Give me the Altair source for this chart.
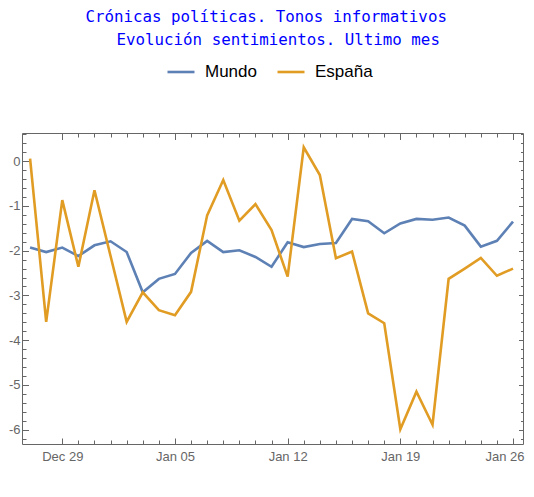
import altair as alt
import pandas as pd

dates = pd.date_range("2014-12-27", "2015-01-26", freq="D").strftime("%Y-%m-%d").tolist()
mundo = [-1.93, -2.03, -1.93, -2.12, -1.88, -1.79, -2.03, -2.93, -2.63, -2.52, -2.05,
         -1.78, -2.03, -1.99, -2.14, -2.36, -1.81, -1.92, -1.85, -1.83, -1.29, -1.34,
         -1.61, -1.39, -1.29, -1.31, -1.26, -1.44, -1.91, -1.78, -1.35]
espana = [0.06, -3.59, -0.87, -2.36, -0.65, -2.12, -3.59, -2.93, -3.33, -3.44, -2.92,
          -1.21, -0.42, -1.33, -0.96, -1.54, -2.58, 0.31, -0.31, -2.17, -2.02, -3.40,
          -3.62, -5.99, -5.15, -5.89, -2.63, -2.40, -2.16, -2.56, -2.40]
series = ["Mundo", "España"]
colors = ["#5E81B5", "#E19C24"]
title_lines = ["Crónicas políticas. Tonos informativos",
               "\u2800\u2800Evolución sentimientos. Ultimo mes"]

major_days = ["2014-12-29", "2015-01-05", "2015-01-12", "2015-01-19", "2015-01-26"]
minor_days = [d for d in pd.date_range("2014-12-30", "2015-01-25", freq="D").strftime("%Y-%m-%d")
              if d not in major_days]
y_major = [-6, -5, -4, -3, -2, -1, 0]
y_minor = [round(-6.2 + 0.2 * i, 1) for i in range(35)]
y_minor = [v for v in y_minor if abs(v - round(v)) > 1e-6]

df = pd.DataFrame({
    "date": dates * 2,
    "value": mundo + espana,
    "serie": [series[0]] * len(dates) + [series[1]] * len(dates),
})

W, H = 501, 311
GRAY = "#666666"


def dt(s):
    y, m, d = [int(p) for p in s.split("-")]
    return alt.DateTime(year=y, month=m, date=d, utc=True)


xscale = alt.Scale(type="utc", domain=[
    alt.DateTime(year=2014, month=12, date=26, hours=11, minutes=57, utc=True),
    alt.DateTime(year=2015, month=1, date=26, hours=14, minutes=53, utc=True)])
yscale = alt.Scale(domain=[-6.32, 0.63], nice=False, zero=False)

base = alt.Chart(df)


def tick_layer(xorient, xvals, xsize, yorient, yvals, ysize):
    return base.mark_line(strokeOpacity=0).encode(
        x=alt.X("date:T", scale=xscale, title=None,
                axis=alt.Axis(orient=xorient, offset=-H, values=[dt(v) for v in xvals],
                              labels=False, domain=False, grid=False, ticks=True,
                              tickSize=xsize, tickColor=GRAY, tickWidth=1)),
        y=alt.Y("value:Q", scale=yscale, title=None,
                axis=alt.Axis(orient=yorient, offset=-W, values=yvals,
                              labels=False, domain=False, grid=False, ticks=True,
                              tickSize=ysize, tickColor=GRAY, tickWidth=1)),
        detail="serie:N",
    )


lines = base.mark_line(strokeWidth=2.6).encode(
    x=alt.X("date:T", scale=xscale, title=None,
            axis=alt.Axis(orient="bottom", values=[dt(v) for v in major_days],
                          format="%b %d", ticks=False, tickSize=0, domain=False, grid=False,
                          labelColor=GRAY, labelFont="Liberation Sans", labelFontSize=13,
                          labelPadding=6, labelFlush=15, labelFlushOffset=11)),
    y=alt.Y("value:Q", scale=yscale, title=None,
            axis=alt.Axis(orient="left", values=y_major, ticks=False, tickSize=0,
                          domain=False, grid=False, labelColor=GRAY,
                          labelExpr="replace(datum.label, '\u2212', '-')",
                          labelFont="Liberation Sans", labelFontSize=13, labelPadding=2)),
    color=alt.Color("serie:N", scale=alt.Scale(domain=series, range=colors), title=None,
                    legend=alt.Legend(orient="none", legendX=144, legendY=-76,
                                      direction="horizontal", symbolType="stroke",
                                      symbolSize=729, symbolStrokeWidth=2.6,
                                      labelFont="Liberation Sans", labelFontSize=17,
                                      labelColor="black", labelOffset=9,
                                      columnPadding=15, padding=0)),
)

chart = alt.layer(
    lines,
    tick_layer("top", major_days, 6, "right", y_major, 6.5),
    tick_layer("top", minor_days, 4, "right", y_minor, 4),
    tick_layer("bottom", major_days, 6.5, "left", y_major, 4.5),
    tick_layer("bottom", minor_days, 4, "left", y_minor, 2.5),
).resolve_axis(x="independent", y="independent").properties(
    width=W, height=H,
    title=alt.TitleParams(text=title_lines, font="DejaVu Sans Mono", fontSize=15.8,
                          fontWeight="normal", color="#0000FF", anchor="middle",
                          lineHeight=23, offset=8, dx=-6.3),
    autosize=alt.AutoSizeParams(type="none"),
    padding={"left": 14, "top": 125, "right": 3, "bottom": 45},
).configure_view(stroke=GRAY, strokeWidth=1)

chart.save("out.html", embed_options={"renderer": "svg", "actions": False})
